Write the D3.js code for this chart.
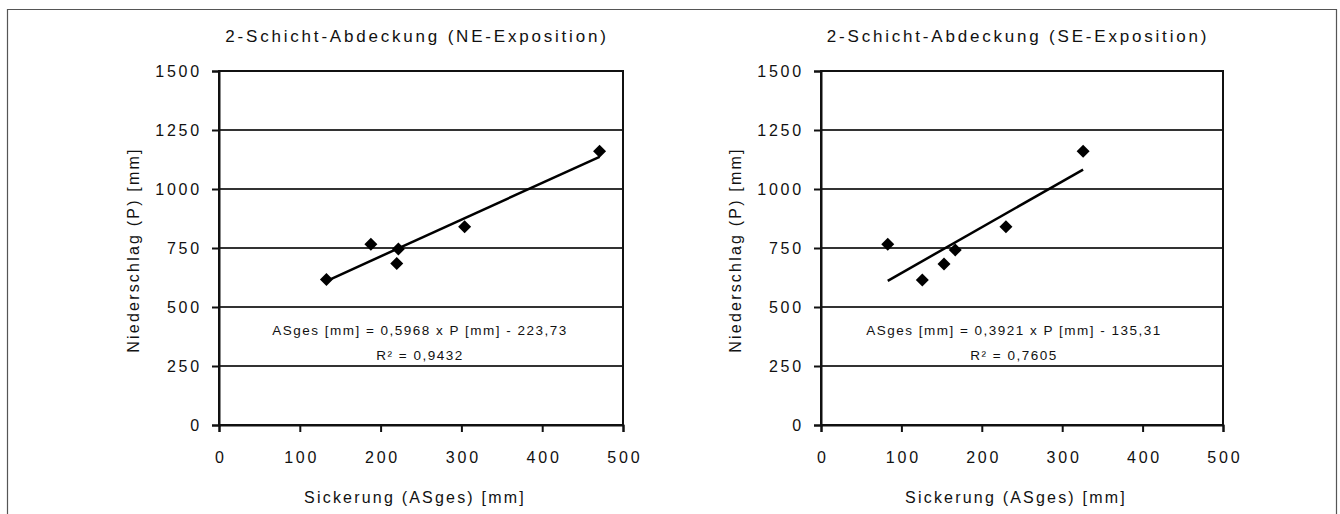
<!DOCTYPE html>
<html>
<head>
<meta charset="utf-8">
<title>2-Schicht-Abdeckung</title>
<script src="https://cdn.jsdelivr.net/npm/d3@7"></script>
<style>
body {
    margin: 0;
    background: white;
}

svg text {
    font-family: "Liberation Sans", Arial, sans-serif;
    fill: #111;
}

.title {
    font-size: 17px;
    letter-spacing: 2.8px;
    text-anchor: middle;
}

.tick text {
    font-size: 16px;
    letter-spacing: 2.8px;
}

.axis-label {
    font-size: 16px;
    letter-spacing: 2.2px;
    text-anchor: middle;
}

.equation {
    font-size: 13.5px;
    letter-spacing: 1.5px;
    text-anchor: middle;
}

.grid line {
    stroke: #333;
    stroke-width: 2px;
}

.frame {
    fill: none;
    stroke: #111;
    stroke-width: 2px;
}

.trend {
    fill: none;
    stroke: black;
    stroke-width: 2.5px;
}
</style>
</head>
<body>

<svg id='chart' width='1340' height='514'></svg>

<script>
// values
const titles = ['2-Schicht-Abdeckung (NE-Exposition)', '2-Schicht-Abdeckung (SE-Exposition)'];
const xTicks = [0, 100, 200, 300, 400, 500];
const yTicks = [0, 250, 500, 750, 1000, 1250, 1500];
const yTickLabels = ['0', '250', '500', '750', '1000', '1250', '1500'];

const asgesNE = [133, 188, 220, 222, 304, 471];
const precipNE = [617, 766, 684, 746, 840, 1160];

const asgesSE = [126, 83, 153, 167, 230, 326];
const precipSE = [614, 766, 682, 742, 840, 1160];

const equations = [
    ['ASges [mm] = 0,5968 x P [mm] - 223,73', 'R² = 0,9432'],
    ['ASges [mm] = 0,3921 x P [mm] - 135,31', 'R² = 0,7605']
];

const xLabel = 'Sickerung (ASges) [mm]';
const yLabel = 'Niederschlag (P) [mm]';

// layout
const panels = [
    {left: 219, right: 623, xs: asgesNE, ys: precipNE, eqX: 420},
    {left: 821, right: 1223, xs: asgesSE, ys: precipSE, eqX: 1014}
];
const plotTop = 71;
const plotBottom = 425;

const svg = d3.select('#chart');

// outer chart frame
svg.append('path')
    .attr('d', 'M7.5,520V9.5H1336.5V520')
    .attr('fill', 'none')
    .attr('stroke', '#555')
    .attr('stroke-width', 1.2);

function diamond(cx, cy, r){
    return `M${cx},${cy - r}L${cx + r},${cy}L${cx},${cy + r}L${cx - r},${cy}Z`;
}

function fitLine(xs, ys){
    const mx = d3.mean(xs);
    const my = d3.mean(ys);
    let sxy = 0, sxx = 0;
    xs.forEach((x, i) => {
        sxy += (x - mx) * (ys[i] - my);
        sxx += (x - mx) ** 2;
    });
    const slope = sxy / sxx;
    return x => my + slope * (x - mx);
}

panels.forEach((panel, p) => {
    const x = d3.scaleLinear().domain([0, 500]).range([panel.left, panel.right]);
    const y = d3.scaleLinear().domain([0, 1500]).range([plotBottom, plotTop]);
    const mid = (panel.left + panel.right) / 2;

    const g = svg.append('g');

    g.append('text')
        .attr('class', 'title')
        .attr('x', mid - 4)
        .attr('y', 42)
        .text(titles[p]);

    // horizontal gridlines
    g.append('g')
        .attr('class', 'grid')
        .selectAll('line')
        .data(yTicks.slice(1, -1))
        .join('line')
            .attr('x1', panel.left)
            .attr('x2', panel.right)
            .attr('y1', d => y(d))
            .attr('y2', d => y(d));

    g.append('rect')
        .attr('class', 'frame')
        .attr('x', panel.left)
        .attr('y', plotTop)
        .attr('width', panel.right - panel.left)
        .attr('height', plotBottom - plotTop);

    const yAxis = g.append('g')
        .attr('transform', `translate(${panel.left},0)`)
        .call(d3.axisLeft(y).tickValues(yTicks).tickFormat((d, i) => yTickLabels[i]).tickSize(7).tickPadding(10));

    const xAxis = g.append('g')
        .attr('transform', `translate(0,${plotBottom})`)
        .call(d3.axisBottom(x).tickValues(xTicks).tickSize(7).tickPadding(20));

    [yAxis, xAxis].forEach(a => {
        a.select('.domain').attr('stroke', '#111').attr('stroke-width', 2);
        a.selectAll('.tick line').attr('stroke', '#111').attr('stroke-width', 2);
        a.selectAll('.tick text').attr('fill', '#111');
    });
    // letter-spacing adds trailing space; nudge labels back to centre
    xAxis.selectAll('.tick text').attr('dx', 1.4);

    g.append('text')
        .attr('class', 'axis-label')
        .attr('x', mid - 6)
        .attr('y', 503)
        .text(xLabel);

    g.append('text')
        .attr('class', 'axis-label')
        .attr('transform', `translate(${panel.left - 86},${(plotTop + plotBottom) / 2 + 2}) rotate(-90)`)
        .attr('dy', '0.35em')
        .text(yLabel);

    // trend line
    const f = fitLine(panel.xs, panel.ys);
    const [x0, x1] = d3.extent(panel.xs);
    g.append('path')
        .attr('class', 'trend')
        .attr('d', d3.line()([[x(x0), y(f(x0))], [x(x1), y(f(x1))]]));

    g.append('g')
        .selectAll('path')
        .data(panel.xs.map((v, i) => [v, panel.ys[i]]))
        .join('path')
            .attr('d', d => diamond(x(d[0]), y(d[1]), 6.5))
            .attr('fill', 'black');

    g.selectAll('.equation')
        .data(equations[p])
        .join('text')
            .attr('class', 'equation')
            .attr('x', panel.eqX)
            .attr('y', (d, i) => 335 + i * 25)
            .text(d => d);
});
</script>
</body>
</html>
